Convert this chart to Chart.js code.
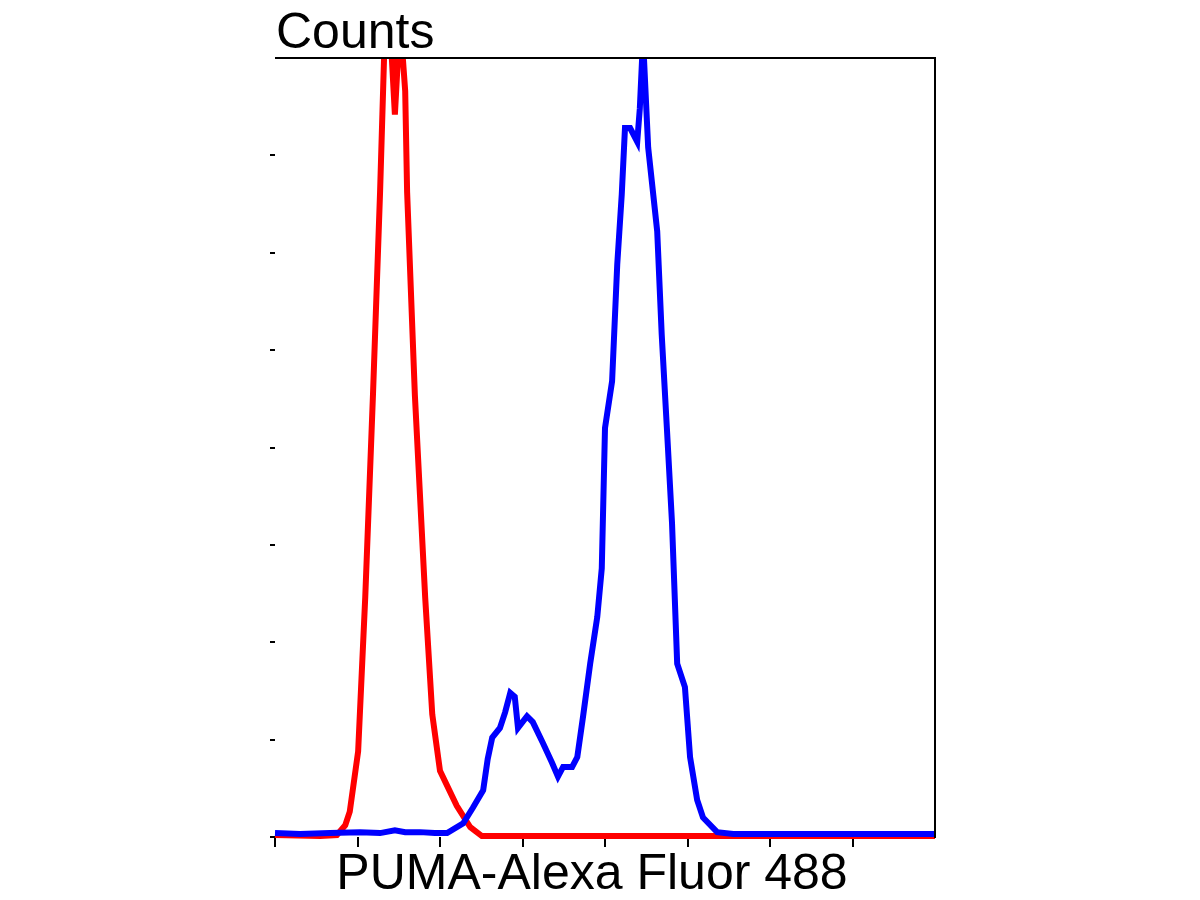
<!DOCTYPE html>
<html>
<head>
<meta charset="utf-8">
<script src="https://cdn.jsdelivr.net/npm/chart.js@4"></script>
<style>
  html, body { margin: 0; padding: 0; background: #fff; }
  #wrap { width: 1200px; height: 900px; }
</style>
</head>
<body>
<div id="wrap"><canvas id="histChart" width="1200" height="900"></canvas></div>
<script>
// Isotype control (red) – channel / counts
const redX = [0, 70, 96, 109, 116, 129, 140, 152, 163, 171, 178, 186, 194, 202, 205, 217, 233, 244, 256, 282, 303, 321, 1024];
const redY = [1, 0.5, 1, 6, 13, 44, 123, 227, 331, 420, 420, 371, 420, 383, 331, 227, 123, 63, 34, 16, 5, 0.5, 0.5];

// PUMA stained sample (blue)
const blueX = [0, 39, 85, 132, 163, 186, 202, 225, 248, 267, 292, 307, 323, 330, 337, 349, 357, 365, 372, 377, 391, 400, 416, 430, 439, 447, 461, 469, 478, 489, 500, 507, 512, 523, 531, 538, 543, 551, 562, 566, 571, 579, 593, 600, 608, 616, 624, 636, 644, 655, 664, 686, 711, 1024];
const blueY = [2, 1.5, 2, 2.5, 2, 3.5, 2.5, 2.5, 2, 2, 7, 15, 24, 40, 51, 56, 64, 74, 72, 56, 62, 59, 48, 38, 31, 36, 36, 41, 62, 89, 113, 138, 210, 234, 294, 330, 364, 364, 357, 374, 410, 354, 311, 258, 210, 161, 89, 77, 41, 19, 10, 2.5, 1.5, 1.5];

const xMax = 1024, xStep = 128;
const yMax = 400, yStep = 50;

const toPoints = (xs, ys) => xs.map((x, i) => ({ x: x, y: ys[i] }));

// top/right frame + text labels
const framePlugin = {
  id: "frame",
  afterDraw(chart) {
    const { ctx, chartArea: a } = chart;
    ctx.save();
    ctx.strokeStyle = "#000";
    ctx.lineWidth = 2;
    ctx.beginPath();
    ctx.moveTo(a.left, a.top);
    ctx.lineTo(a.right, a.top);
    ctx.lineTo(a.right, a.bottom + 1);
    ctx.stroke();

    ctx.fillStyle = "#000";
    ctx.textBaseline = "alphabetic";
    ctx.font = "50px 'Liberation Sans', Arial, sans-serif";
    ctx.textAlign = "left";
    ctx.fillText("Counts", 276, 48);
    ctx.textAlign = "center";
    ctx.fillText("PUMA-Alexa Fluor 488", 592, 889);
    ctx.restore();
  }
};

const tickColor = (last) => (c) => (c.tick && c.tick.value === last ? "rgba(0,0,0,0)" : "#000");

new Chart(document.getElementById("histChart"), {
  type: "line",
  data: {
    datasets: [{
      label: "PUMA",
      data: toPoints(blueX, blueY),
      borderColor: "#0000ff",
      borderWidth: 6,
      order: 0
    }, {
      label: "Isotype",
      data: toPoints(redX, redY),
      borderColor: "#ff0000",
      borderWidth: 6,
      order: 1
    }]
  },
  options: {
    responsive: false,
    animation: false,
    devicePixelRatio: 1,
    layout: { padding: { left: 270, right: 265, top: 58, bottom: 53 } },
    elements: { point: { radius: 0 }, line: { tension: 0 } },
    datasets: { line: { clip: { left: 3, top: 0, right: 3, bottom: 3 } } },
    plugins: { legend: { display: false }, tooltip: { enabled: false } },
    scales: {
      x: {
        type: "linear",
        min: 0, max: xMax,
        border: { display: false },
        ticks: { display: false, stepSize: xStep },
        grid: { drawOnChartArea: false, drawTicks: true, tickLength: 10, lineWidth: 2, color: tickColor(xMax) }
      },
      y: {
        min: 0, max: yMax,
        border: { display: false },
        ticks: { display: false, stepSize: yStep },
        grid: { drawOnChartArea: false, drawTicks: true, tickLength: 5, lineWidth: 2, color: tickColor(yMax) }
      }
    }
  },
  plugins: [framePlugin]
});
</script>
</body>
</html>
